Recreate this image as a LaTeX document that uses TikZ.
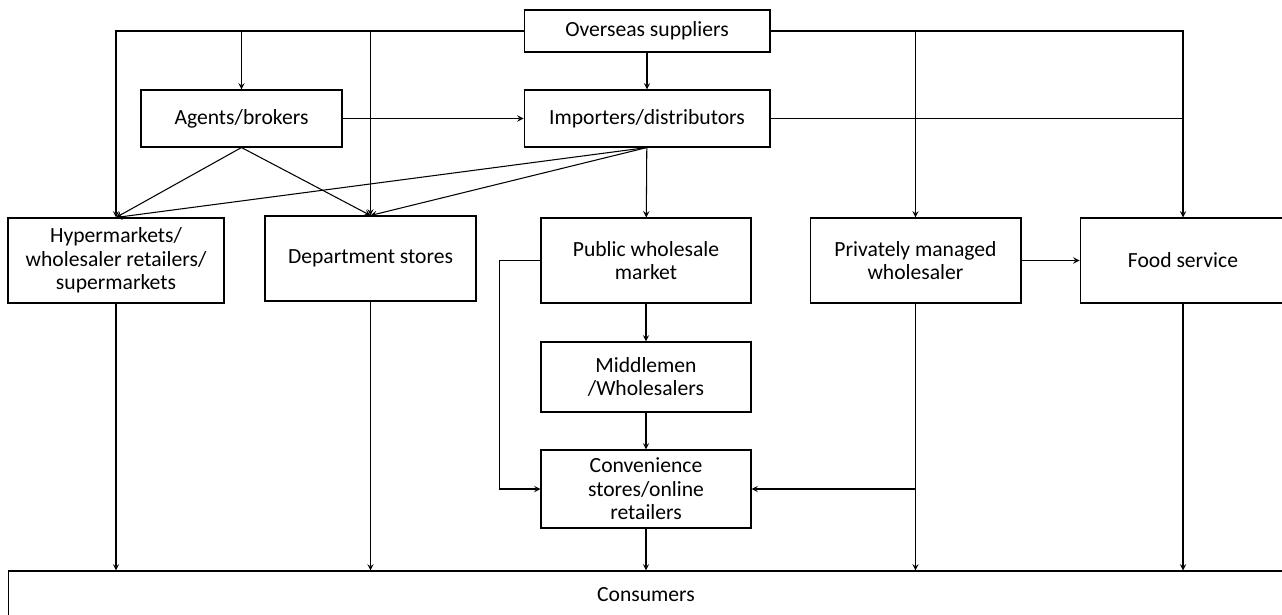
\documentclass[tikz,border=0pt]{standalone}
\usepackage{fontspec}
\setmainfont{Carlito}
\usepackage{tikz}

\begin{document}
\begin{tikzpicture}[
            x = 0.02cm, y = -0.02cm, % one unit per pixel, downwards
            >= stealth, % arrow head style
            semithick % line style
        ]

        \tikzstyle{box}=[
            draw = black,
            align = center,
            inner sep = 0pt,
            font = \fontsize{12.3}{13.4}\selectfont
        ]

\useasboundingbox (0,0) rectangle (1282,615);
\clip (0,0) rectangle (1282,615);

\node[box, minimum width=4.92cm, minimum height=0.84cm] (over) at (647,31) {Overseas suppliers};
\node[box, minimum width=4.02cm, minimum height=1.14cm] (agents) at (241.5,118.5) {Agents/brokers};
\node[box, minimum width=4.92cm, minimum height=1.14cm] (imp) at (647,118.5) {Importers/distributors};
\node[box, minimum width=4.32cm, minimum height=1.70cm] (hyper) at (116,260.5) {Hypermarkets/\\ wholesaler retailers/\\ supermarkets};
\node[box, minimum width=4.22cm, minimum height=1.70cm] (dept) at (370.5,258.5) {Department stores};
\node[box, minimum width=4.20cm, minimum height=1.70cm] (pub) at (646,260.5) {Public wholesale\\ market};
\node[box, minimum width=4.22cm, minimum height=1.70cm] (priv) at (915.5,260.5) {Privately managed\\ wholesaler};
\node[box, minimum width=4.12cm, minimum height=1.70cm] (food) at (1183,260.5) {Food service};
\node[box, minimum width=4.20cm, minimum height=1.40cm] (mid) at (646,377) {Middlemen\\ /Wholesalers};
\node[box, minimum width=4.20cm, minimum height=1.56cm] (conv) at (646,489) {Convenience\\ stores/online\\ retailers};
\node[box, minimum width=25.52cm, minimum height=0.96cm] (cons) at (646,595) {Consumers};

% from overseas suppliers
 \draw [->] (over.west) -| (hyper.north);
 \draw [->] (over.west) -| (agents.north);
 \draw [->] (over.west) -| (dept.north);
 \draw [->] (over.east) -| (priv.north);
 \draw [->] (over.east) -| (food.north);
 \path [->] (over) edge (imp);

% agents and importers
 \path [->] (agents) edge (imp);
 \path [->] (agents.south) edge (hyper.north);
 \path [->] (agents.south) edge (dept.north);
 \path [->] (imp.south) edge (hyper.north);
 \path [->] (imp.south) edge (dept.north);
 \path [->] (imp) edge (pub);
 \draw (imp.east) -- (imp.east -| food.north);

% wholesale chain
 \path [->] (pub) edge (mid);
 \path [->] (mid) edge (conv);
 \draw [->] (pub.west) -- ++(-41,0) |- (conv.west);
 \path [->] (priv) edge (food);
 \draw [->] (priv.south |- conv.east) -- (conv.east);

% to consumers
 \draw [->] (hyper.south) -- (hyper.south |- cons.north);
 \draw [->] (dept.south) -- (dept.south |- cons.north);
 \path [->] (conv) edge (cons);
 \draw [->] (priv.south) -- (priv.south |- cons.north);
 \draw [->] (food.south) -- (food.south |- cons.north);
\end{tikzpicture}
\end{document}
